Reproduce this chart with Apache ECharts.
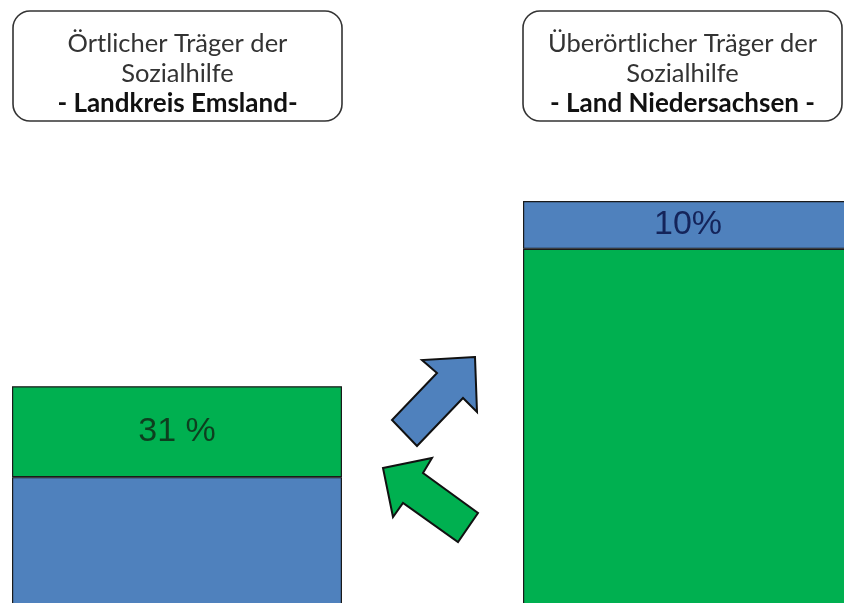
<!DOCTYPE html>
<html>
<head>
<meta charset="utf-8">
<title>Sozialhilfe Träger</title>
<script src="https://cdn.jsdelivr.net/npm/echarts@6/dist/echarts.min.js"></script>
<style>
    html, body { margin: 0; padding: 0; background: #fff; }
    #chart { width: 844px; height: 603px; }
</style>
</head>
<body>
<div id="chart"></div>
<script>
// Daten
const categories = ['Landkreis Emsland', 'Land Niedersachsen'];
// relative Größe der Balken (Land = 100)
const totals = [61.3, 100];
// Anteile in Prozent: unteres Segment / oberes Segment
const bottomShares = [69, 90];
const topShares = [31, 10];
const bottomColors = ['#4f81bd', '#00b050'];
const topColors = ['#00b050', '#4f81bd'];
const topLabels = ['31 %', '10%'];
const topLabelColors = ['#0d3f1f', '#14245a'];

const boxLines = [
    ['Örtlicher Träger der', 'Sozialhilfe', '- Landkreis Emsland-'],
    ['Überörtlicher Träger der', 'Sozialhilfe', '- Land Niedersachsen -']
];

const chart = echarts.init(document.getElementById('chart'));

const bottomData = categories.map((c, i) => ({
    value: totals[i] * bottomShares[i] / 100,
    itemStyle: { color: bottomColors[i] }
}));
const topData = categories.map((c, i) => ({
    value: totals[i] * topShares[i] / 100,
    itemStyle: { color: topColors[i] },
    label: { formatter: topLabels[i], color: topLabelColors[i] }
}));

// Kästen oben
const boxX = [13, 523];
const boxW = [329, 319];
const graphics = [];
boxLines.forEach((lines, i) => {
    graphics.push({
        type: 'rect',
        shape: { x: boxX[i], y: 11, width: boxW[i], height: 110, r: 17 },
        style: { fill: '#fff', stroke: '#333', lineWidth: 1.6 }
    });
    lines.forEach((t, j) => {
        graphics.push({
            type: 'text',
            x: boxX[i] + boxW[i] / 2,
            y: 44 + j * 30,
            style: {
                text: t,
                fill: j === 2 ? '#111' : '#333',
                font: (j === 2 ? 'bold 26px' : '25.5px') + ' Lato, "Noto Sans", sans-serif',
                align: 'center',
                verticalAlign: 'middle'
            }
        });
    });
});

// Pfeile
graphics.push({
    type: 'polygon',
    shape: { points: [[475, 357], [422, 360], [437, 373], [392, 420], [417, 446], [463, 398], [477, 412]] },
    style: { fill: '#4f81bd', stroke: '#111', lineWidth: 2 }
});
graphics.push({
    type: 'polygon',
    shape: { points: [[383, 468], [432, 458], [423, 473], [478, 513], [458, 542], [403, 503], [393, 517]] },
    style: { fill: '#00b050', stroke: '#111', lineWidth: 2 }
});

const option = {
    animation: false,
    // Balkenmitten liegen an den Rändern des Gitters (boundaryGap: false)
    grid: { top: 201, bottom: 0, left: 177, right: 156 },
    xAxis: {
        type: 'category',
        data: categories,
        boundaryGap: false,
        show: false
    },
    yAxis: {
        type: 'value',
        min: 16,
        max: 100,
        show: false
    },
    series: [
        {
            type: 'bar',
            stack: 'traeger',
            barWidth: 330,
            clip: false,
            data: bottomData,
            itemStyle: { borderColor: '#1a1a1a', borderWidth: 1.2 }
        },
        {
            type: 'bar',
            stack: 'traeger',
            barWidth: 330,
            clip: false,
            data: topData,
            itemStyle: { borderColor: '#1a1a1a', borderWidth: 1.2 },
            label: {
                show: true,
                position: 'inside',
                fontFamily: 'Arial, "Liberation Sans", sans-serif',
                fontSize: 34
            }
        }
    ],
    graphic: graphics
};

chart.setOption(option);
</script>
</body>
</html>
